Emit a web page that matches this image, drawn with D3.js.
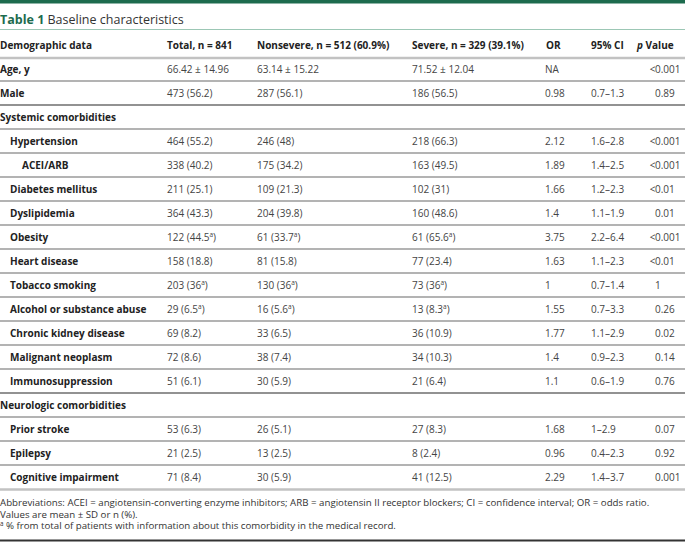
<!DOCTYPE html>
<html><head><meta charset="utf-8">
<script src="https://cdn.jsdelivr.net/npm/d3@7"></script>
<style>
html,body{margin:0;padding:0;background:#fff;}
svg{display:block;font-family:"Open Sans","Noto Sans",sans-serif;}
</style></head>
<body><div id="chart"></div>
<script>
// ---- data ----
const headers = ["Demographic data", "Total, n = 841", "Nonsevere, n = 512 (60.9%)", "Severe, n = 329 (39.1%)", "OR", "95% CI", "p Value"];
const labels = ["Age, y","Male","Systemic comorbidities","Hypertension","ACEI/ARB","Diabetes mellitus","Dyslipidemia","Obesity","Heart disease","Tobacco smoking","Alcohol or substance abuse","Chronic kidney disease","Malignant neoplasm","Immunosuppression","Neurologic comorbidities","Prior stroke","Epilepsy","Cognitive impairment"];
const levels = [0,0,0,1,2,1,1,1,1,1,1,1,1,1,0,1,1,1];
const total = ["66.42 ± 14.96","473 (56.2)","","464 (55.2)","338 (40.2)","211 (25.1)","364 (43.3)","122 (44.5^a)","158 (18.8)","203 (36^a)","29 (6.5^a)","69 (8.2)","72 (8.6)","51 (6.1)","","53 (6.3)","21 (2.5)","71 (8.4)"];
const nonsevere = ["63.14 ± 15.22","287 (56.1)","","246 (48)","175 (34.2)","109 (21.3)","204 (39.8)","61 (33.7^a)","81 (15.8)","130 (36^a)","16 (5.6^a)","33 (6.5)","38 (7.4)","30 (5.9)","","26 (5.1)","13 (2.5)","30 (5.9)"];
const severe = ["71.52 ± 12.04","186 (56.5)","","218 (66.3)","163 (49.5)","102 (31)","160 (48.6)","61 (65.6^a)","77 (23.4)","73 (36^a)","13 (8.3^a)","36 (10.9)","34 (10.3)","21 (6.4)","","27 (8.3)","8 (2.4)","41 (12.5)"];
const oddsRatio = ["NA","0.98","","2.12","1.89","1.66","1.4","3.75","1.63","1","1.55","1.77","1.4","1.1","","1.68","0.96","2.29"];
const ci95 = ["","0.7–1.3","","1.6–2.8","1.4–2.5","1.2–2.3","1.1–1.9","2.2–6.4","1.1–2.3","0.7–1.4","0.7–3.3","1.1–2.9","0.9–2.3","0.6–1.9","","1–2.9","0.4–2.3","1.4–3.7"];
const pValue = ["<0.001","0.89","","<0.001","<0.001","<0.01","0.01","<0.001","<0.01","1","0.26","0.02","0.14","0.76","","0.07","0.92","0.001"];
const footnotes = [
  "Abbreviations: ACEI = angiotensin-converting enzyme inhibitors; ARB = angiotensin II receptor blockers; CI = confidence interval; OR = odds ratio.",
  "Values are mean ± SD or n (%).",
  "^a % from total of patients with information about this comorbidity in the medical record."
];

// ---- layout ----
const W = 685, H = 542;
const svg = d3.select("#chart").append("svg").attr("width", W).attr("height", H);
const cols = ["label","total","nonsevere","severe","or","ci","p"];
const xCol = d3.scaleOrdinal().domain(cols).range([0,167,257,412,545,591,655]);
const xHead = d3.scaleOrdinal().domain(cols).range([0,167,257,412,546,591,637]);
const y = d3.scaleBand().domain(d3.range(labels.length)).range([57, 57 + 24*labels.length]);
const indent = d3.scaleOrdinal().domain([0,1,2]).range([0,10,22]);

const green = "#1d6b4e";
svg.append("rect").attr("x",0).attr("y",0).attr("width",W).attr("height",3.5).attr("fill",green);

const title = svg.append("text").attr("x",0).attr("y",24).attr("font-size",12.5).attr("fill","#333");
title.append("tspan").attr("font-weight","bold").attr("fill",green).text("Table 1");
title.append("tspan").text(" Baseline characteristics");
svg.append("line").attr("x1",0).attr("x2",W).attr("y1",29.5).attr("y2",29.5).attr("stroke","#9cc7b5").attr("stroke-width",1.2);

// header
svg.append("g").selectAll("text").data(headers).join("text")
  .attr("x",(d,i)=>xHead(cols[i])).attr("y",48.5)
  .attr("font-size",10).attr("font-weight","bold").attr("fill","#222")
  .each(function(d,i){
    const t = d3.select(this);
    if (i===6){ t.append("tspan").attr("font-style","italic").text("p"); t.append("tspan").text(" Value"); }
    else t.text(d);
  });
svg.append("line").attr("x1",0).attr("x2",W).attr("y1",58).attr("y2",58).attr("stroke","#c2c2c2").attr("stroke-width",2.5);

// row separator lines
const idx = d3.range(labels.length);
svg.append("g").selectAll("line").data(idx.slice(0,-1)).join("line")
  .attr("x1",0).attr("x2",W)
  .attr("y1",i=>y(i)+y.bandwidth()).attr("y2",i=>y(i)+y.bandwidth())
  .attr("stroke",i=>(i===1||i===13)?"#6e6e6e":"#9a9a9a").attr("stroke-width",1.3);
svg.append("line").attr("x1",0).attr("x2",W).attr("y1",y(labels.length-1)+y.bandwidth()+0.5).attr("y2",y(labels.length-1)+y.bandwidth()+0.5).attr("stroke","#c2c2c2").attr("stroke-width",2.5);

function writeVal(sel, s){
  const parts = s.split("^a");
  sel.append("tspan").text(parts[0]);
  if (parts.length>1){
    sel.append("tspan").attr("font-size",6.5).attr("dy",-3.5).text("a");
    sel.append("tspan").attr("dy",3.5).text(parts[1]);
  }
}

const rows = svg.append("g").selectAll("g").data(idx).join("g")
  .attr("transform",i=>`translate(0,${y(i)+y.bandwidth()/2+3.6})`);
rows.append("text").attr("x",i=>indent(levels[i])).attr("font-size",10).attr("font-weight","bold")
  .attr("fill","#222").text(i=>labels[i]);
const series = [["total",total],["nonsevere",nonsevere],["severe",severe],["or",oddsRatio],["ci",ci95]];
series.forEach(([c,arr])=>{
  rows.append("text").attr("x",xCol(c)).attr("font-size",10).attr("fill","#444")
    .each(function(i){ writeVal(d3.select(this), arr[i]); });
});
// p values: digits start at the p column, a leading "<" hangs to the left
rows.append("text").attr("x",xCol("p")+0.5).attr("text-anchor","end").attr("font-size",10).attr("fill","#444")
  .text(i=>pValue[i].startsWith("<")?"<":"");
rows.append("text").attr("x",xCol("p")).attr("font-size",10).attr("fill","#444")
  .text(i=>pValue[i].replace(/^</,""));

// footnotes
svg.append("g").selectAll("text").data(footnotes).join("text")
  .attr("x",0).attr("y",(d,i)=>506+i*11.5).attr("font-size",9.7).attr("fill","#333")
  .each(function(d){
    const t = d3.select(this);
    if (d.startsWith("^a")){ t.append("tspan").attr("font-size",6.3).attr("dy",-3).text("a"); t.append("tspan").attr("dy",3).text(d.slice(2)); }
    else t.text(d);
  });
svg.append("line").attr("x1",0).attr("x2",W).attr("y1",540.5).attr("y2",540.5).attr("stroke","#333").attr("stroke-width",2);
</script></body></html>
